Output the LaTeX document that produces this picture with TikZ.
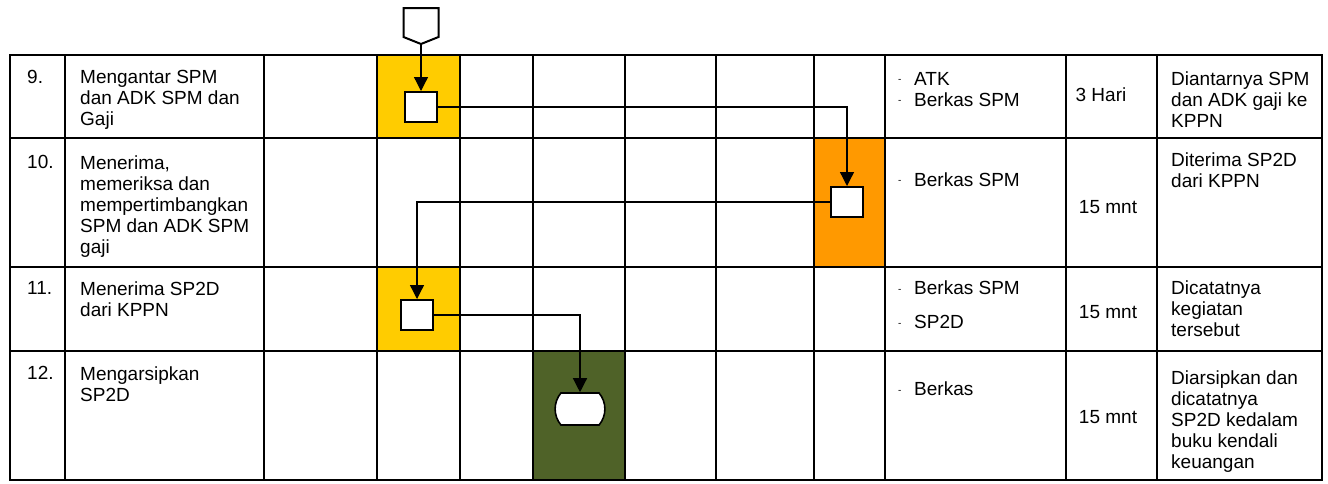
\documentclass[tikz,border=0pt]{standalone}
\usepackage{fontspec}
\setmainfont{Liberation Sans}
\usepackage{tikz}
\usetikzlibrary{arrows.meta,shapes.misc}
\usepackage{xcolor}
\definecolor{sopyellow}{RGB}{255,204,0}
\definecolor{soporange}{RGB}{255,153,0}
\definecolor{sopgreen}{RGB}{79,98,40}

\tikzset{
  procbox/.style={draw, line width=2pt, fill=white, minimum width=32pt, minimum height=30pt, inner sep=0pt},
  termbox/.style={draw, line width=1.6pt, fill=white, rounded rectangle, rounded rectangle arc length=80,
    minimum width=49pt, minimum height=32pt, inner sep=0pt},
  flow/.style={line width=1.3pt, -{Triangle[length=14pt,width=14pt]}},
  cell/.style={anchor=north west, inner sep=0pt, align=left},
  item/.style={anchor=base west, inner sep=0pt},
}
\newcommand{\dashitem}{\makebox[16pt][l]{\raisebox{2.5pt}{\fontsize{10}{10}\selectfont -}}}

\begin{document}
\begin{tikzpicture}[x=1pt, y=-1pt, font=\fontsize{19}{21}\selectfont]
    \useasboundingbox (0,0) rectangle (1328,483);
    % Lane colours
    \fill[sopyellow] (377,55) rectangle (460,138);
    \fill[soporange] (814,138) rectangle (885,267);
    \fill[sopyellow] (377,267) rectangle (460,351);
    \fill[sopgreen] (533,351) rectangle (625,480);
    % Table grid
    \foreach \cx in {65,264,377,460,533,625,716,814,885,1066,1157}
        \draw[line width=2pt] (\cx,55) -- (\cx,480);
    \foreach \ry in {138,267,351}
        \draw[line width=2pt] (10,\ry) -- (1322,\ry);
    \draw[line width=2.2pt] (10,55) rectangle (1322,480);

    % Row texts
    \node[cell] (no9) at (27,70.5) {9.};
    \node[cell] (no10) at (27,155.5) {10.};
    \node[cell] (no11) at (27,281.5) {11.};
    \node[cell] (no12) at (27,366.5) {12.};
    \node[cell] (kg9) at (80,70.5) {Mengantar SPM\\dan ADK SPM dan\\Gaji};
    \node[cell] (kg10) at (80,155.5) {Menerima,\\memeriksa dan\\mempertimbangkan\\SPM dan ADK SPM\\gaji};
    \node[cell] (kg11) at (80,281.5) {Menerima SP2D\\dari KPPN};
    \node[cell] (kg12) at (80,366.5) {Mengarsipkan\\SP2D};

    % Kelengkapan
    \node[item] (kl9a) at (898,85) {\dashitem ATK};
    \node[item] (kl9b) at (898,106) {\dashitem Berkas SPM};
    \node[item] (kl10) at (898,186) {\dashitem Berkas SPM};
    \node[item] (kl11a) at (898,294.5) {\dashitem Berkas SPM};
    \node[item] (kl11b) at (898,328.5) {\dashitem SP2D};
    \node[item] (kl12) at (898,395.5) {\dashitem Berkas};

    % Waktu
    \node[anchor=base, inner sep=0pt] (wk9) at (1101,101.5) {3 Hari};
    \node[anchor=base, inner sep=0pt] (wk10) at (1108,213) {15 mnt};
    \node[anchor=base, inner sep=0pt] (wk11) at (1108,318.5) {15 mnt};
    \node[anchor=base, inner sep=0pt] (wk12) at (1108,423.5) {15 mnt};

    % Output
    \node[cell] (out9) at (1171,71.5) {Diantarnya SPM\\dan ADK gaji ke\\KPPN};
    \node[cell] (out10) at (1171,152.5) {Diterima SP2D\\dari KPPN};
    \node[cell] (out11) at (1171,281) {Dicatatnya\\kegiatan\\tersebut};
    \node[cell] (out12) at (1171,371) {Diarsipkan dan\\dicatatnya\\SP2D kedalam\\buku kendali\\keuangan};

    % Off-page connector
    \draw[line width=2pt, line join=miter, fill=white] (403.5,8) -- (438.5,8) -- (438.5,37) -- (421,44) -- (403.5,37) -- cycle;
    \coordinate (opc) at (421,44);

    % Flow
    \node[procbox] (kirim) at (421,107) {};
    \node[procbox] (periksa) at (847,202) {};
    \node[procbox] (terima) at (417,315) {};
    \node[termbox] (arsip) at (580,409) {};
    \draw[flow] (opc) -- (kirim);
    \draw[flow] (kirim.east) -| (periksa.north);
    \draw[flow] (periksa.west) -| (terima.north);
    \draw[flow] (terima.east) -| (arsip.north);
\end{tikzpicture}
\end{document}
